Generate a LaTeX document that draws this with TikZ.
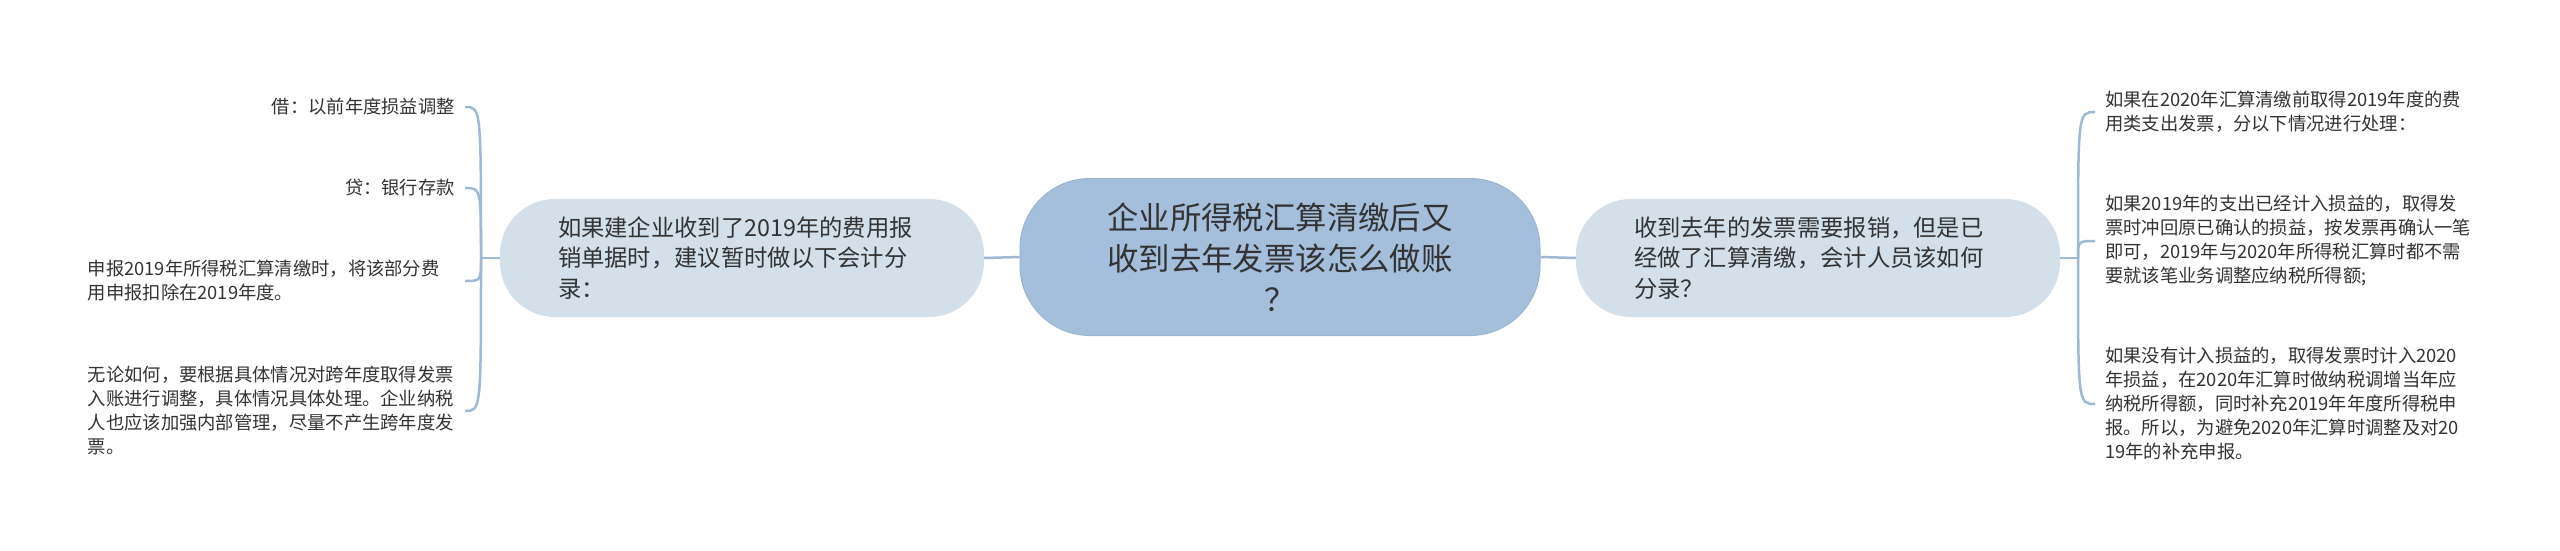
\documentclass[tikz,border=0pt]{standalone}
\usepackage{fontspec}
\setmainfont{Noto Sans CJK SC}
\definecolor{rootfill}{HTML}{A3BFDC}
\definecolor{subfill}{HTML}{D3E0EA}
\definecolor{branchline}{HTML}{9DB9D4}
\definecolor{inktext}{HTML}{333333}
\newcommand{\myfontroot}{\fontsize{31.4}{41}\selectfont}
\newcommand{\myfontsub}{\fontsize{23.3}{30.5}\selectfont}
\newcommand{\myfontleaf}{\fontsize{18.3}{24}\selectfont}
\begin{document}
\begin{tikzpicture}[x=1pt,y=-1pt,
	rootbox/.style={fill=rootfill,draw=rootfill!95!black,line width=1pt,rounded corners=70pt,
		minimum width=520pt,minimum height=157pt,text width=360pt,align=center,text=inktext,font=\myfontroot},
	subbox/.style={fill=subfill,rounded corners=55pt,minimum width=484pt,minimum height=118pt,
		text width=368pt,align=left,text=inktext,font=\myfontsub},
	leafbox/.style={inner sep=0pt,align=left,text=inktext,font=\myfontleaf},
	branch/.style={draw=branchline,line width=2.5pt}]
			%Page frame
			\fill [white] (0,0) rectangle (2560,551);
			%The central topic
			\coordinate (centerRoot) at (1280,257);
			\node [rootbox] (root) at (centerRoot) {企业所得税汇算清缴后又\\收到去年发票该怎么做账\\？};
			%The two main branches
			\coordinate (centerLeft) at (742,258);
			\coordinate (centerRight) at (1818,258);
			\node [subbox] (left) at (centerLeft) {如果建企业收到了2019年的费用报\\销单据时，建议暂时做以下会计分\\录：};
			\node [subbox] (right) at (centerRight) {收到去年的发票需要报销，但是已\\经做了汇算清缴，会计人员该如何\\分录？};
			\draw [branch] (root.west) -- (left.east);
			\draw [branch] (root.east) -- (right.west);
			%Leaves on the left
			\coordinate (leaf1) at (455,107);
			\coordinate (leaf2) at (455,188);
			\coordinate (leaf3) at (455,281);
			\coordinate (leaf4) at (455,411);
			\node [leafbox,anchor=east] (l1) at (leaf1) {借：以前年度损益调整};
			\node [leafbox,anchor=east] (l2) at (leaf2) {贷：银行存款};
			\node [leafbox,anchor=east,text width=367pt] (l3) at (leaf3) {申报2019年所得税汇算清缴时，将该部分费\\用申报扣除在2019年度。};
			\node [leafbox,anchor=east,text width=367pt] (l4) at (leaf4) {无论如何，要根据具体情况对跨年度取得发票\\入账进行调整，具体情况具体处理。企业纳税\\人也应该加强内部管理，尽量不产生跨年度发\\票。};
			%Leaves on the right
			\coordinate (leaf5) at (2105,112);
			\coordinate (leaf6) at (2105,241);
			\coordinate (leaf7) at (2105,404);
			\node [leafbox,anchor=west,text width=372pt] (r1) at (leaf5) {如果在2020年汇算清缴前取得2019年度的费\\用类支出发票，分以下情况进行处理：};
			\node [leafbox,anchor=west,text width=372pt] (r2) at (leaf6) {如果2019年的支出已经计入损益的，取得发\\票时冲回原已确认的损益，按发票再确认一笔\\即可，2019年与2020年所得税汇算时都不需\\要就该笔业务调整应纳税所得额;};
			\node [leafbox,anchor=west,text width=372pt] (r3) at (leaf7) {如果没有计入损益的，取得发票时计入2020\\年损益，在2020年汇算时做纳税调增当年应\\纳税所得额，同时补充2019年年度所得税申\\报。所以，为避免2020年汇算时调整及对20\\19年的补充申报。};
			%Curly branches to the leaves
			\coordinate (joinLeft) at (481,258);
			\coordinate (joinRight) at (2078,258);
			\draw [branch] (left.west) -- (joinLeft);
			\draw [branch] (right.east) -- (joinRight);
			\foreach \leaf in {l1,l2,l3,l4} {
				\draw [branch] (joinLeft) .. controls (joinLeft |- \leaf.east) .. ([xshift=10pt]\leaf.east);
			}
			\foreach \leaf in {r1,r2,r3} {
				\draw [branch] (joinRight) .. controls (joinRight |- \leaf.west) .. ([xshift=-10pt]\leaf.west);
			}
\end{tikzpicture}
\end{document}
